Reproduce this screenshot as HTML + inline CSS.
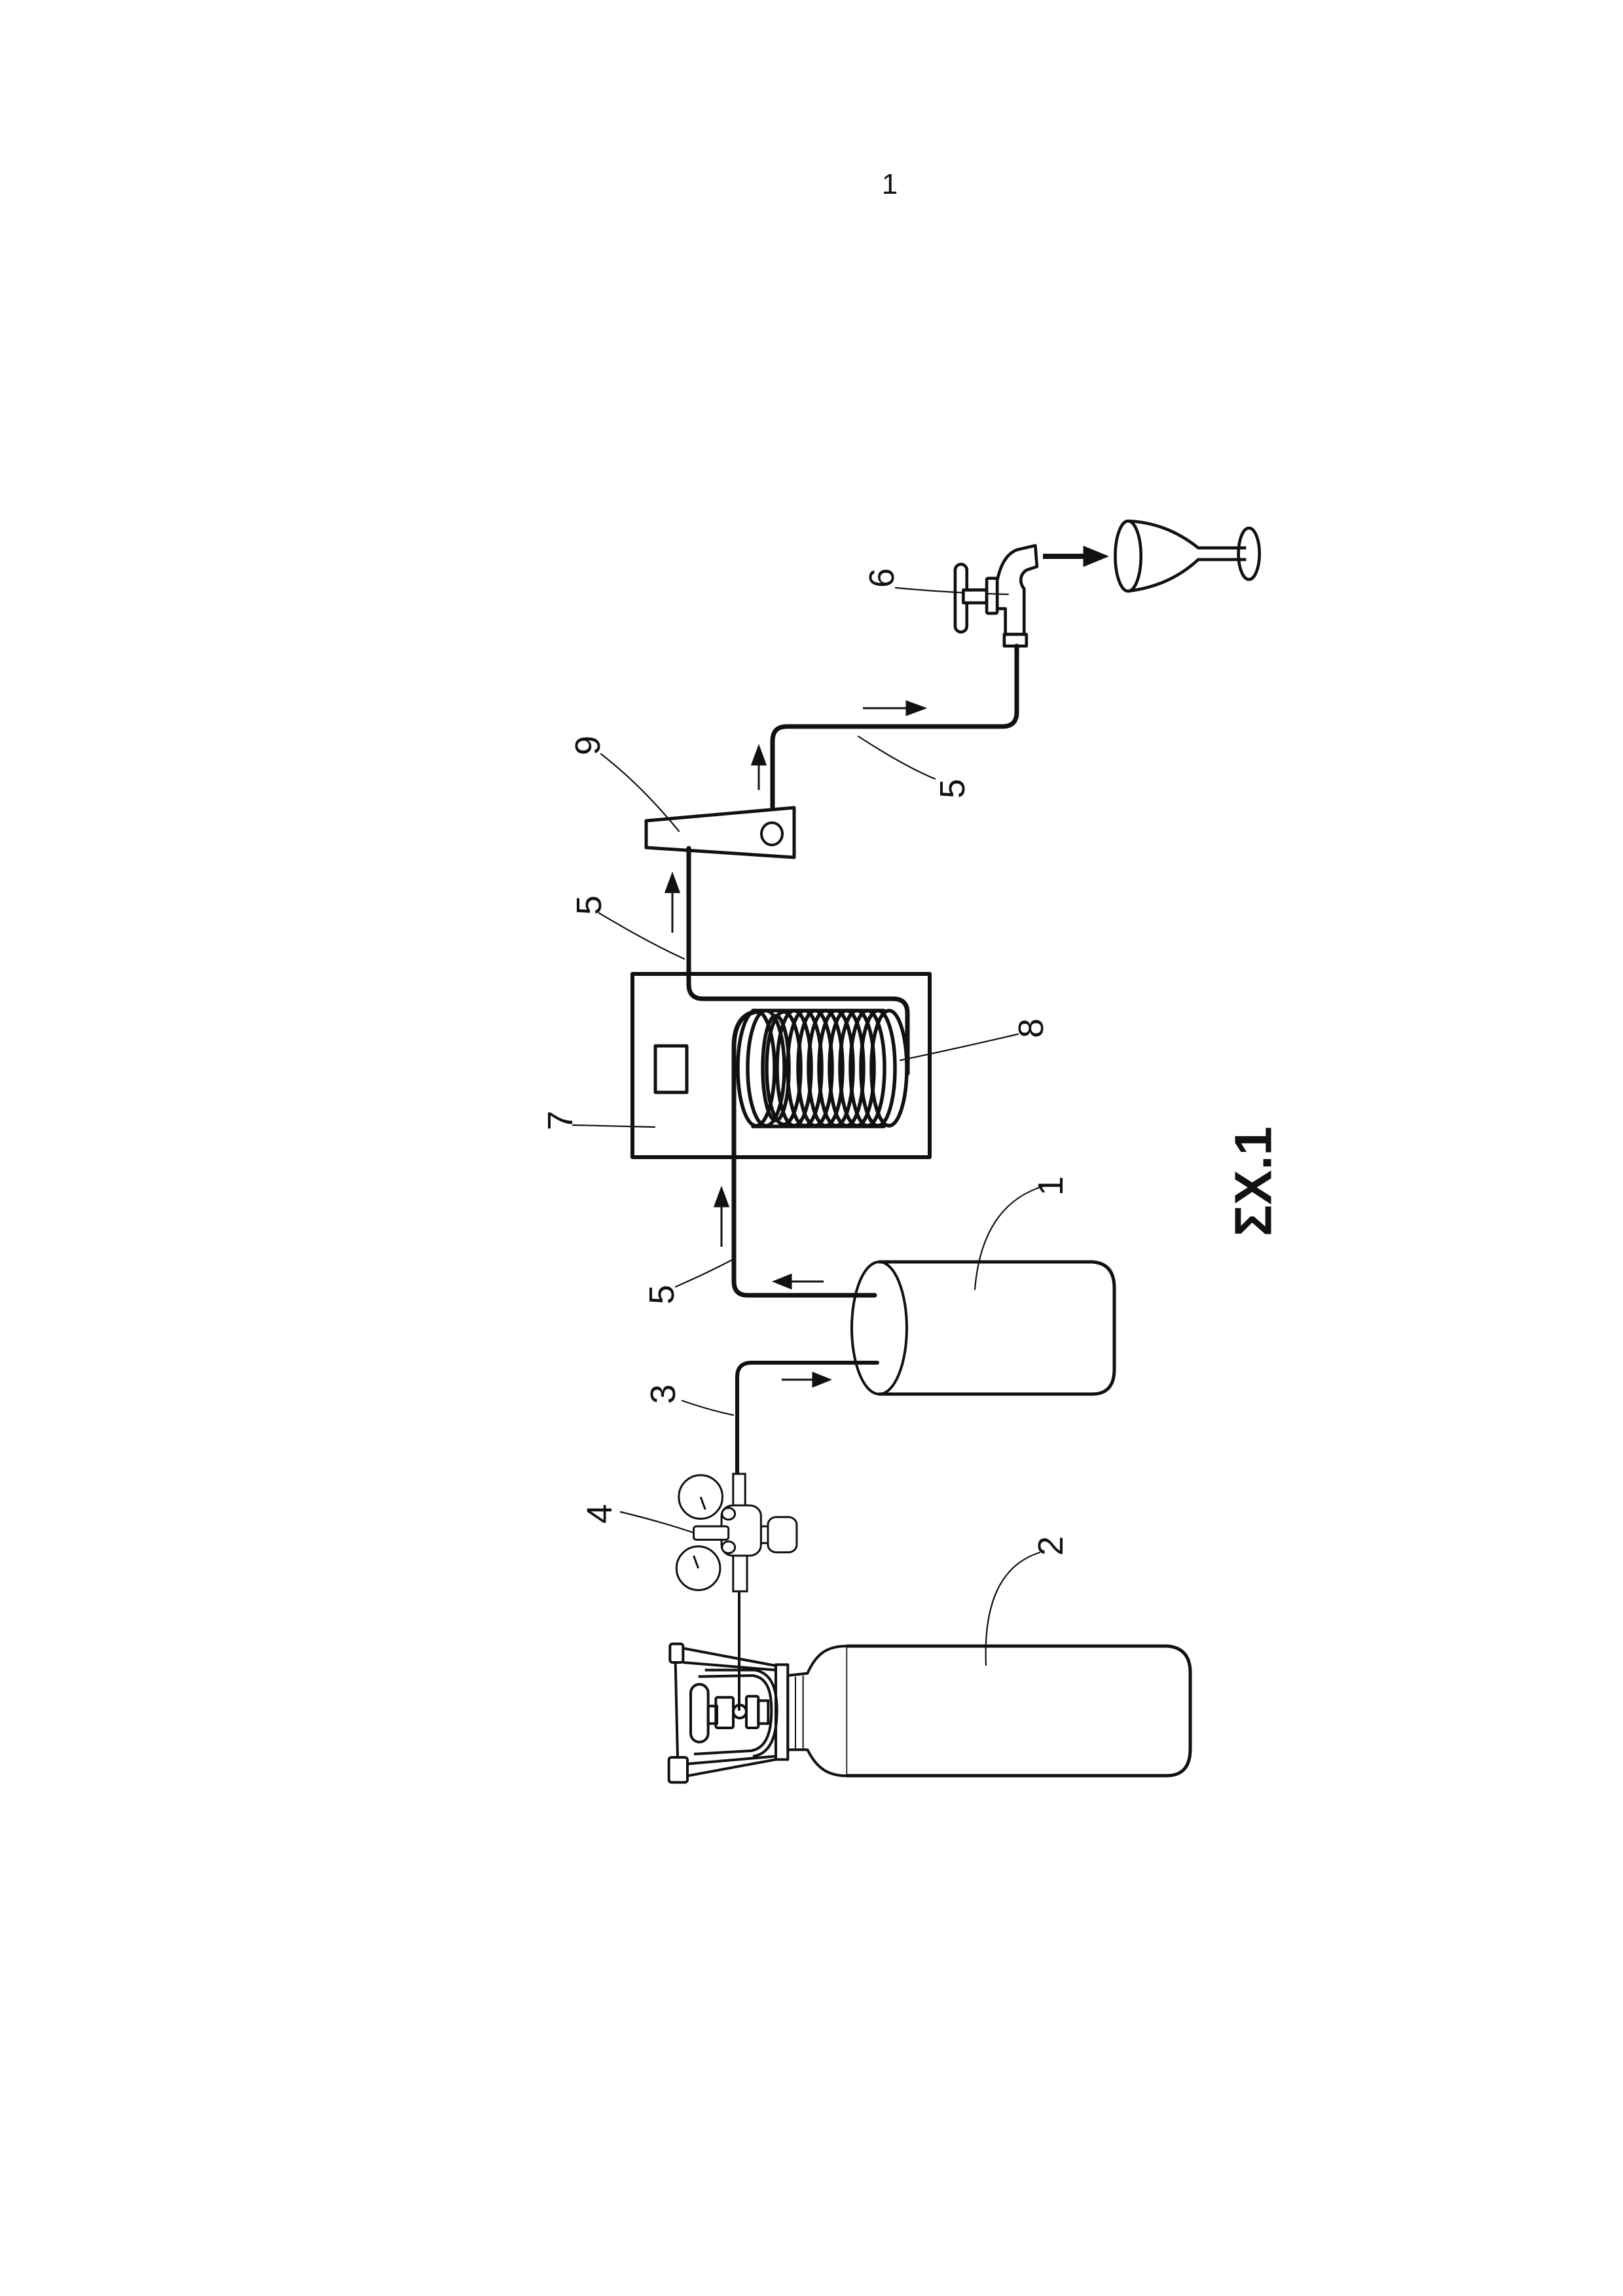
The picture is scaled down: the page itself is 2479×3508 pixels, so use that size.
<!DOCTYPE html>
<html><head><meta charset="utf-8"><style>
html,body{margin:0;padding:0;background:#fff}
svg{display:block}
text{font-family:"Liberation Sans",sans-serif;fill:#111}
</style></head><body>
<svg width="2479" height="3508" viewBox="0 0 2479 3508" xmlns="http://www.w3.org/2000/svg">
<rect width="2479" height="3508" fill="#fff"/>
<text x="1359" y="296" font-size="44" text-anchor="middle">1</text>

<g fill="none" stroke="#111" stroke-linecap="round" stroke-linejoin="round">
<rect x="966" y="1488" width="454" height="280" stroke-width="6"/>
<rect x="1001" y="1598" width="48" height="71" stroke-width="5"/>
<g stroke-width="5.5">
<ellipse cx="1155" cy="1632" rx="28" ry="88"/>
<ellipse cx="1170" cy="1632" rx="28" ry="88"/>
<ellipse cx="1185" cy="1632" rx="20" ry="80"/>
<ellipse cx="1197" cy="1632" rx="26" ry="86"/>
<ellipse cx="1213" cy="1632" rx="26" ry="88"/>
<ellipse cx="1229" cy="1632" rx="26" ry="88"/>
<ellipse cx="1245" cy="1632" rx="26" ry="88"/>
<ellipse cx="1261" cy="1632" rx="26" ry="88"/>
<ellipse cx="1277" cy="1632" rx="26" ry="88"/>
<ellipse cx="1293" cy="1632" rx="26" ry="88"/>
<ellipse cx="1309" cy="1632" rx="26" ry="88"/>
<ellipse cx="1325" cy="1632" rx="26" ry="88"/>
<ellipse cx="1341" cy="1632" rx="26" ry="88"/>
<ellipse cx="1358" cy="1632" rx="27" ry="88"/>
<path d="M1150,1544 L1350,1544 M1150,1721 L1350,1721"/>
</g>
<path d="M1336,1979 L1142,1979 Q1121,1979 1121,1958 L1121,1600 Q1121,1548 1160,1545" stroke-width="7"/>
<path d="M1386,1640 L1386,1548 Q1386,1526 1364,1526 L1074,1526 Q1052,1526 1052,1504 L1052,1296" stroke-width="7"/>
<path d="M1180,1236 L1180,1132 Q1180,1110 1202,1110 L1531,1110 Q1553,1110 1553,1088 L1553,987" stroke-width="7"/>
<path d="M1340,2082 L1148,2082 Q1126,2082 1126,2104 L1126,2262" stroke-width="6"/>
<path d="M1129,2431 L1129,2612" stroke-width="4"/>
<path d="M987,1254 L1213,1234 L1213,1310 L987,1295 Z" stroke-width="5"/>
<ellipse cx="1179" cy="1274" rx="16" ry="17" stroke-width="4"/>
<path d="M1343,1928 L1668,1928 Q1702,1930 1702,1968 L1702,2092 Q1702,2130 1668,2130 L1343,2130" stroke-width="5"/>
<ellipse cx="1343" cy="2029" rx="42" ry="101" stroke-width="4"/>
<g stroke-width="2.2">
<path d="M918,1152 Q980,1200 1037,1270"/>
<path d="M915,1395 Q990,1440 1045,1465"/>
<path d="M875,1719 L1000,1722"/>
<path d="M1368,898 Q1450,906 1540,908"/>
<path d="M1311,1125 Q1380,1170 1428,1190"/>
<path d="M1375,1620 Q1470,1600 1555,1580"/>
<path d="M1032,1966 Q1080,1945 1120,1924"/>
<path d="M1042,2140 Q1085,2155 1120,2162"/>
<path d="M948,2310 Q1010,2325 1060,2342"/>
<path d="M1489,1970 Q1500,1840 1595,1812"/>
<path d="M1506,2544 Q1500,2400 1588,2372"/>
</g>
</g>

<g stroke="#111" stroke-width="3" fill="#111">
<line x1="1194" y1="2108" x2="1245" y2="2108"/><path d="M1267,2108 L1242,2098 L1242,2118 Z"/>
<line x1="1258" y1="1958" x2="1205" y2="1958"/><path d="M1183,1958 L1208,1948 L1208,1968 Z"/>
<line x1="1102" y1="1905" x2="1102" y2="1840"/><path d="M1102,1816 L1092,1843 L1112,1843 Z"/>
<line x1="1027" y1="1425" x2="1027" y2="1360"/><path d="M1027,1336 L1017,1363 L1037,1363 Z"/>
<line x1="1159" y1="1207" x2="1159" y2="1165"/><path d="M1159,1141 L1149,1168 L1169,1168 Z"/>
<line x1="1318" y1="1082" x2="1388" y2="1082"/><path d="M1412,1082 L1385,1072 L1385,1092 Z"/>
<line x1="1593" y1="850" x2="1660" y2="850" stroke-width="8"/><path d="M1690,850 L1656,836 L1656,864 Z"/>
</g>

<g transform="translate(1400,780) scale(0.357)" fill="none" stroke="#111" stroke-width="13" stroke-linejoin="round">
<rect x="165" y="230" width="50" height="290" rx="25"/>
<rect x="200" y="340" width="100" height="55" fill="#fff"/>
<rect x="300" y="290" width="45" height="150" rx="6"/>
<path d="M345,420 L380,420 L380,530 L460,530 L460,335 C440,310 440,275 470,255 L515,240 L508,150 L430,168 C385,185 358,235 345,300"/>
<rect x="375" y="530" width="95" height="50"/>
<path d="M905,45 C1030,50 1130,100 1205,160 L1410,160 M905,345 C1030,330 1130,280 1205,210 L1410,210"/>
<ellipse cx="905" cy="195" rx="55" ry="150"/>
<ellipse cx="1422" cy="185" rx="45" ry="110"/>
</g>

<g transform="translate(900,1800) scale(0.709,0.641)" fill="#fff" stroke="#111" stroke-width="3">
<ellipse cx="240" cy="760" rx="47" ry="52" vector-effect="non-scaling-stroke"/>
<ellipse cx="235" cy="930" rx="47" ry="52" vector-effect="non-scaling-stroke"/>
<path d="M240,760 L250,790 M235,930 L225,900" vector-effect="non-scaling-stroke"/>
<rect x="310" y="705" width="26" height="80" vector-effect="non-scaling-stroke"/>
<rect x="310" y="895" width="30" height="90" vector-effect="non-scaling-stroke"/>
<rect x="370" y="830" width="22" height="40" vector-effect="non-scaling-stroke"/>
<rect x="385" y="808" width="62" height="84" rx="18" vector-effect="non-scaling-stroke"/>
<rect x="285" y="780" width="85" height="120" rx="25" vector-effect="non-scaling-stroke"/>
<rect x="225" y="830" width="75" height="32" rx="6" vector-effect="non-scaling-stroke"/>
<ellipse cx="300" cy="800" rx="14" ry="14" vector-effect="non-scaling-stroke"/>
<ellipse cx="300" cy="880" rx="14" ry="14" vector-effect="non-scaling-stroke"/>
</g>

<path d="M1293,2515 L1782,2515 Q1818,2517 1818,2556 L1818,2672 Q1818,2713 1782,2713 L1293,2713" fill="none" stroke="#111" stroke-width="5"/>
<g transform="translate(1000,2480) scale(0.3333)" fill="none" stroke="#111" stroke-width="12" stroke-linejoin="round">
<path d="M880,105 C790,105 740,140 700,230 L610,240 L610,580 L700,580 C740,660 790,700 880,700"/>
<line x1="880" y1="105" x2="880" y2="700" stroke-width="5"/>
<line x1="645" y1="245" x2="645" y2="580" stroke-width="6"/>
<line x1="680" y1="240" x2="680" y2="585" stroke-width="6"/>
<rect x="555" y="190" width="55" height="435"/>
<path d="M130,115 L555,195 M130,180 L555,215"/>
<rect x="70" y="95" width="60" height="85" rx="12"/>
<path d="M95,180 L105,615"/>
<rect x="65" y="615" width="85" height="115" rx="12"/>
<path d="M150,645 L555,610 M150,700 L555,625"/>
<path d="M200,245 L450,240 C520,250 535,320 535,400 C535,500 510,575 440,585 L180,600"/>
<path d="M230,215 L460,215 C545,230 560,320 560,400 C560,520 530,600 450,610"/>
<rect x="165" y="280" width="80" height="265" rx="40"/>
<rect x="245" y="380" width="40" height="80"/>
<rect x="280" y="340" width="80" height="140" rx="8"/>
<circle cx="390" cy="405" r="30"/>
<rect x="420" y="335" width="55" height="145" rx="8"/>
<rect x="475" y="355" width="45" height="105"/>
</g>

<g font-size="54">
<text transform="translate(898,1139) rotate(-90)" text-anchor="middle" dominant-baseline="central">9</text>
<text transform="translate(900,1383) rotate(-90)" text-anchor="middle" dominant-baseline="central">5</text>
<text transform="translate(856,1712) rotate(-90)" text-anchor="middle" dominant-baseline="central">7</text>
<text transform="translate(1347,883) rotate(-90)" text-anchor="middle" dominant-baseline="central">6</text>
<text transform="translate(1455,1205) rotate(-90)" text-anchor="middle" dominant-baseline="central">5</text>
<text transform="translate(1575,1571) rotate(-90)" text-anchor="middle" dominant-baseline="central">8</text>
<text transform="translate(1011,1978) rotate(-90)" text-anchor="middle" dominant-baseline="central">5</text>
<text transform="translate(1013,2130) rotate(-90)" text-anchor="middle" dominant-baseline="central">3</text>
<text transform="translate(916,2313) rotate(-90)" text-anchor="middle" dominant-baseline="central">4</text>
<text transform="translate(1605,1812) rotate(-90)" text-anchor="middle" dominant-baseline="central">1</text>
<text transform="translate(1605,2362) rotate(-90)" text-anchor="middle" dominant-baseline="central">2</text>
</g>
<text transform="translate(1914,1805) rotate(-90)" font-size="80" font-weight="bold" text-anchor="middle" dominant-baseline="central">ΣΧ.1</text>
</svg>
</body></html>
